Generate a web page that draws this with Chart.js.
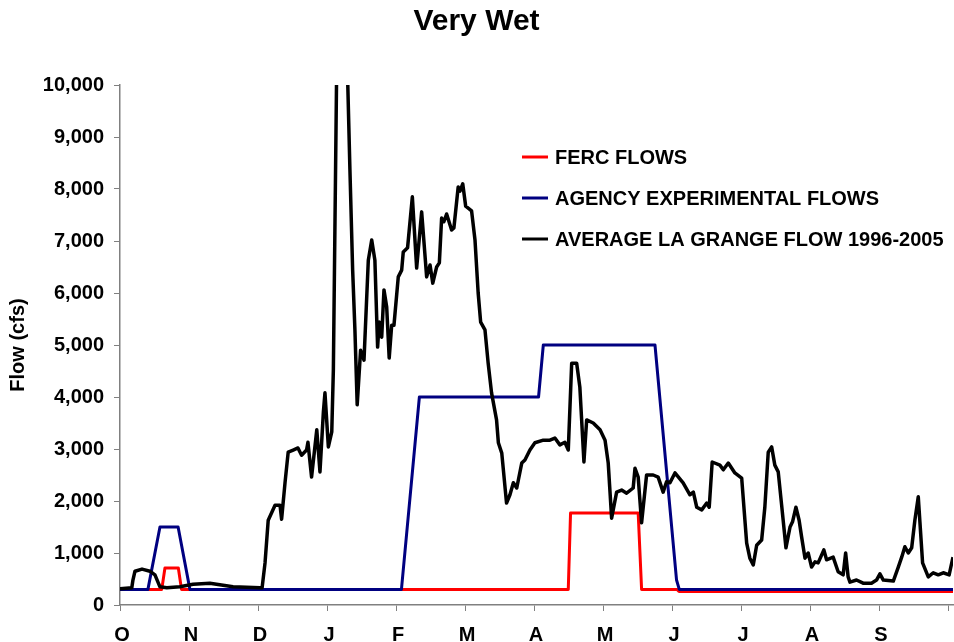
<!DOCTYPE html>
<html>
<head>
<meta charset="utf-8">
<script src="https://cdn.jsdelivr.net/npm/chart.js@4"></script>
<style>
  html, body { margin: 0; padding: 0; background: #fff; }
  #wrap { width: 954px; height: 642px; }
</style>
</head>
<body>
<div id="wrap"><canvas id="myChart"></canvas></div>
<script>
// month initials of the water year, one tick every ~30.4 days
const monthLabels = ["O", "N", "D", "J", "F", "M", "A", "M", "J", "J", "A", "S"];
const monthLength = 30.4;

const yTicks = [0, 1000, 2000, 3000, 4000, 5000, 6000, 7000, 8000, 9000, 10000];

// FERC flows (day of water year, cfs)
const fercDays = [0, 18.4, 19.8, 25.7, 27.1, 197.5, 198.5, 228.3, 229.8, 245.4, 246.3, 367];
const fercFlow = [300, 300, 710, 710, 300, 300, 1770, 1770, 300, 300, 260, 260];

// agency experimental flows
const agencyDays = [0, 12.3, 17.6, 25.6, 30.8, 124.0, 131.9, 184.4, 186.5, 235.7, 245.2, 246.4, 367];
const agencyFlow = [300, 300, 1500, 1500, 300, 300, 4000, 4000, 5000, 5000, 480, 300, 300];

// average La Grange flow 1996-2005
const avgDays = [
  0, 5.2, 5.7, 6.6, 9.7, 13.2, 15.4, 17.6, 20.6, 26.4,
  32.2, 39.6, 49.8, 61.7, 62.6, 63.9, 65.3, 68.3, 70.5, 71.2,
  72.7, 74.1, 76.3, 78.4, 80.0, 82.2, 82.8, 84.4, 86.7, 88.1,
  89.6, 90.3, 91.8, 93.3, 94.0, 96.9, 101.3, 102.5, 103.5, 104.5,
  106.0, 107.5, 109.4, 110.9, 112.3, 113.5, 114.2, 115.3, 116.3, 117.5,
  118.6, 119.7, 120.7, 122.6, 124.1, 124.8, 126.7, 128.8, 130.7, 132.9,
  135.1, 136.6, 137.8, 139.5, 140.7, 141.7, 142.7, 143.9, 146.1, 147.1,
  149.0, 149.8, 151.0, 152.3, 154.9, 156.4, 157.8, 158.9, 160.8, 162.2,
  163.7, 165.9, 166.7, 168.2, 170.3, 171.8, 173.3, 174.8, 177.0, 178.4,
  180.6, 182.8, 186.5, 189.4, 191.6, 193.8, 196.0, 197.5, 199.0, 201.2,
  202.6, 204.4, 205.6, 208.5, 211.5, 213.7, 215.1, 216.6, 218.8, 221.0,
  223.2, 226.1, 226.9, 228.3, 229.8, 232.0, 234.9, 237.1, 239.3, 240.8,
  242.3, 244.5, 248.1, 251.1, 252.6, 254.1, 256.3, 258.5, 259.6, 260.9,
  264.3, 265.8, 268.0, 270.9, 273.9, 276.1, 277.5, 279.0, 280.5, 282.7,
  284.1, 285.6, 287.1, 288.5, 290.0, 291.5, 293.4, 295.2, 296.3, 297.8,
  299.2, 300.3, 301.8, 303.2, 304.7, 306.2, 307.6, 310.1, 311.3, 314.2,
  316.4, 318.6, 319.7, 320.8, 321.6, 324.5, 327.4, 331.1, 333.3, 334.8,
  336.3, 340.7, 342.9, 344.4, 345.8, 347.3, 348.8, 350.2, 351.7, 353.6,
  356.1, 358.3, 360.5, 362.7, 365.3, 367.0
];
const avgFlow = [
  310, 330, 480, 650, 690, 650, 580, 350, 330, 350,
  400, 420, 350, 330, 330, 810, 1630, 1920, 1920, 1650,
  2350, 2940, 2980, 3020, 2880, 2980, 3130, 2460, 3370, 2560,
  3710, 4080, 3040, 3330, 4520, 16000, 8370, 6440, 5290, 3850,
  4900, 4710, 6630, 7020, 6630, 4960, 5440, 5150, 6060, 5730,
  4750, 5380, 5380, 6310, 6440, 6790, 6870, 7850, 6480, 7560,
  6310, 6540, 6190, 6500, 6580, 7440, 7370, 7520, 7210, 7250,
  8040, 7960, 8100, 7670, 7580, 7020, 6000, 5440, 5290, 4650,
  4080, 3560, 3120, 2920, 1960, 2120, 2350, 2250, 2730, 2790,
  2980, 3120, 3170, 3170, 3210, 3080, 3130, 2980, 4650, 4650,
  4190, 2750, 3560, 3500, 3370, 3170, 2730, 1670, 2170, 2210,
  2150, 2250, 2630, 2460, 1580, 2500, 2500, 2460, 2170, 2370,
  2350, 2540, 2350, 2120, 2170, 1880, 1830, 1960, 1880, 2750,
  2690, 2600, 2730, 2540, 2440, 1190, 900, 770, 1150, 1250,
  1880, 2940, 3040, 2690, 2560, 1920, 1100, 1500, 1600, 1880,
  1630, 1310, 900, 1000, 730, 830, 810, 1060, 870, 920,
  640, 580, 1000, 540, 440, 480, 420, 420, 480, 600,
  480, 460, 730, 920, 1120, 1000, 1100, 1630, 2080, 810,
  540, 620, 580, 620, 580, 920
];

const FONT = 'Arial, "Liberation Sans", sans-serif';
const AXIS_GREY = "#808080";

const toPoints = (xs, ys) => xs.map((x, i) => ({ x: x, y: ys[i] }));

// legend drawn inside the plot, to the right of the peaks
const insideLegend = {
  id: "insideLegend",
  afterDraw(chart) {
    const { ctx, chartArea } = chart;
    const x0 = chartArea.left + 402;
    const y0 = chartArea.top + 72;
    ctx.save();
    ctx.font = "bold 20px " + FONT;
    ctx.textBaseline = "middle";
    ctx.fillStyle = "#000";
    chart.data.datasets.forEach((ds, i) => {
      const y = y0 + i * 41;
      ctx.strokeStyle = ds.borderColor;
      ctx.lineWidth = 3;
      ctx.beginPath();
      ctx.moveTo(x0, y);
      ctx.lineTo(x0 + 26, y);
      ctx.stroke();
      ctx.fillText(ds.label, x0 + 33, y + 1);
    });
    ctx.restore();
  },
};

const data = {
  datasets: [
    {
      label: "FERC FLOWS",
      data: toPoints(fercDays, fercFlow),
      borderColor: "#ff0000",
      borderWidth: 3,
      order: 2,
    },
    {
      label: "AGENCY EXPERIMENTAL FLOWS",
      data: toPoints(agencyDays, agencyFlow),
      borderColor: "#000080",
      borderWidth: 3,
      order: 1,
    },
    {
      label: "AVERAGE LA GRANGE FLOW 1996-2005",
      data: toPoints(avgDays, avgFlow),
      borderColor: "#000000",
      borderWidth: 3.5,
      order: 0,
    },
  ],
};

const config = {
  type: "line",
  data: data,
  plugins: [insideLegend],
  options: {
    responsive: true,
    maintainAspectRatio: false,
    animation: false,
    layout: { padding: { left: 0, right: 1, top: 0, bottom: 0 } },
    elements: {
      point: { radius: 0 },
      line: { tension: 0, fill: false, borderJoinStyle: "round" },
    },
    plugins: {
      legend: { display: false },
      tooltip: { enabled: false },
      title: {
        display: true,
        text: "Very Wet",
        color: "#000",
        font: { family: FONT, size: 30, weight: "bold" },
        padding: { top: 4, bottom: 45 },
      },
    },
    scales: {
      x: {
        type: "linear",
        min: 0,
        max: 367,
        afterBuildTicks: (scale) => {
          const ticks = monthLabels.map((_, i) => ({ value: i * monthLength }));
          ticks.push({ value: monthLabels.length * monthLength });
          scale.ticks = ticks;
        },
        afterFit: (scale) => {
          scale.height = 37;
          scale.paddingLeft = 0;
          scale.paddingRight = 0;
        },
        grid: {
          display: true,
          drawOnChartArea: false,
          drawTicks: true,
          tickLength: 6,
          color: AXIS_GREY,
        },
        border: { display: true, color: AXIS_GREY, width: 1.5 },
        ticks: {
          autoSkip: false,
          maxRotation: 0,
          padding: 12,
          labelOffset: 2,
          color: "#000",
          font: { family: FONT, size: 20, weight: "bold" },
          callback: (value, index) => monthLabels[index] || "",
        },
      },
      y: {
        min: 0,
        max: 10000,
        afterBuildTicks: (scale) => {
          scale.ticks = yTicks.map((v) => ({ value: v }));
        },
        afterFit: (scale) => {
          scale.width = 120;
        },
        grid: {
          display: true,
          drawOnChartArea: false,
          drawTicks: true,
          tickLength: 6,
          color: AXIS_GREY,
        },
        border: { display: true, color: AXIS_GREY, width: 1.5 },
        title: {
          display: true,
          text: "Flow (cfs)",
          color: "#000",
          font: { family: FONT, size: 20, weight: "bold" },
          padding: { top: 6, bottom: 0 },
        },
        ticks: {
          padding: 10,
          color: "#000",
          font: { family: FONT, size: 20, weight: "bold" },
          callback: (value) => value.toLocaleString("en-US"),
        },
      },
    },
  },
};

const ctx = document.getElementById("myChart").getContext("2d");
new Chart(ctx, config);
</script>
</body>
</html>
